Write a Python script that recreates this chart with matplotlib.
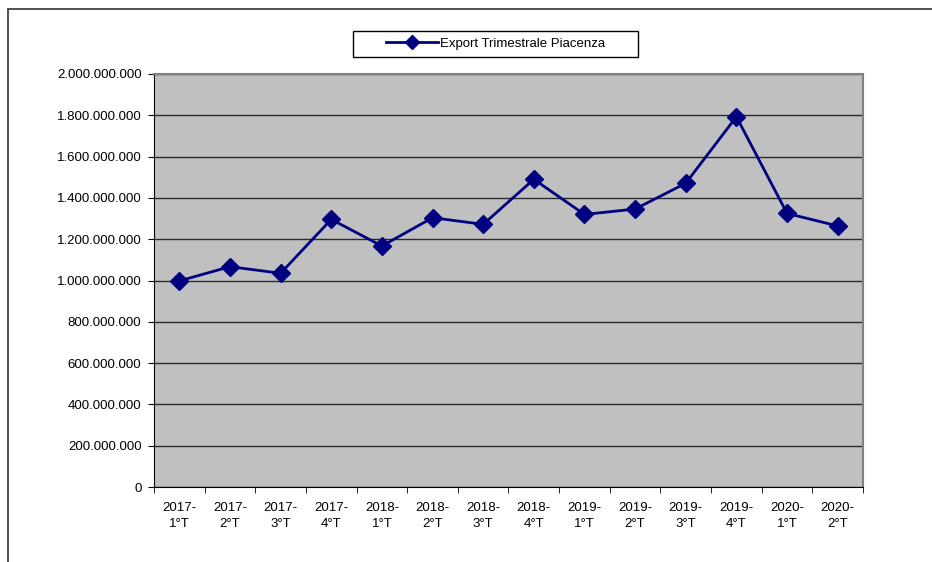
import matplotlib.pyplot as plt
from matplotlib.patches import Rectangle
from matplotlib.ticker import FuncFormatter, FixedLocator

plt.rcParams['font.family'] = ['Liberation Sans', 'DejaVu Sans']

# Dati export trimestrale
trimestri = ['2017-\n1°T', '2017-\n2°T', '2017-\n3°T', '2017-\n4°T',
             '2018-\n1°T', '2018-\n2°T', '2018-\n3°T', '2018-\n4°T',
             '2019-\n1°T', '2019-\n2°T', '2019-\n3°T', '2019-\n4°T',
             '2020-\n1°T', '2020-\n2°T']
export = [998e6, 1067e6, 1035e6, 1296e6, 1167e6, 1304e6, 1272e6,
          1490e6, 1320e6, 1346e6, 1471e6, 1793e6, 1325e6, 1264e6]

W, H = 932, 562
fig = plt.figure(figsize=(W / 100, H / 100), dpi=100)
ax = fig.add_axes([154 / W, 1 - 487 / H, (863 - 154) / W, (487 - 74) / H])

# cornice esterna del grafico
fig.patches.append(Rectangle((8 / W, -0.1), 1.2, (H - 9) / H + 0.1,
                             transform=fig.transFigure, fill=False,
                             edgecolor='#333333', linewidth=1.2))
# riquadro della legenda
fig.patches.append(Rectangle((352.5 / W, 1 - 57 / H), 285 / W, 26 / H,
                             transform=fig.transFigure, fill=False,
                             edgecolor='black', linewidth=1))

ax.set_facecolor('#C0C0C0')
x = list(range(len(trimestri)))
ax.plot(x, export, color='#000080', linewidth=2, marker='D', markersize=9,
        label='Export Trimestrale Piacenza', zorder=3)

ax.set_xlim(-0.5, len(trimestri) - 0.5)
ax.set_ylim(0, 2e9)
ax.set_yticks([i * 2e8 for i in range(11)])
ax.yaxis.set_major_formatter(FuncFormatter(lambda v, p: f'{int(v):,}'.replace(',', '.')))
ax.grid(axis='y', color='#2b2b2b', linewidth=1)
ax.set_axisbelow(True)

ax.set_xticks(x)
ax.set_xticklabels(trimestri, fontsize=9.5, linespacing=1.4)
ax.tick_params(axis='x', which='major', length=0, pad=11)
ax.xaxis.set_minor_locator(FixedLocator([i - 0.5 for i in range(len(trimestri) + 1)]))
ax.tick_params(axis='x', which='minor', length=4, direction='out', color='black')
ax.tick_params(axis='y', labelsize=9.5, length=4, direction='out', color='black', pad=5)

for s in ['top', 'right']:
    ax.spines[s].set_color('#808080')
    ax.spines[s].set_linewidth(1.5)
ax.spines['left'].set_color('black')
ax.spines['bottom'].set_color('black')

leg = ax.legend(loc='center', bbox_to_anchor=(496 / W, 1 - 44 / H),
                bbox_transform=fig.transFigure, frameon=False,
                fontsize=9.5, handlelength=3.9, handletextpad=0.2,
                markerscale=0.75)

fig.savefig('out.png', dpi=100)
